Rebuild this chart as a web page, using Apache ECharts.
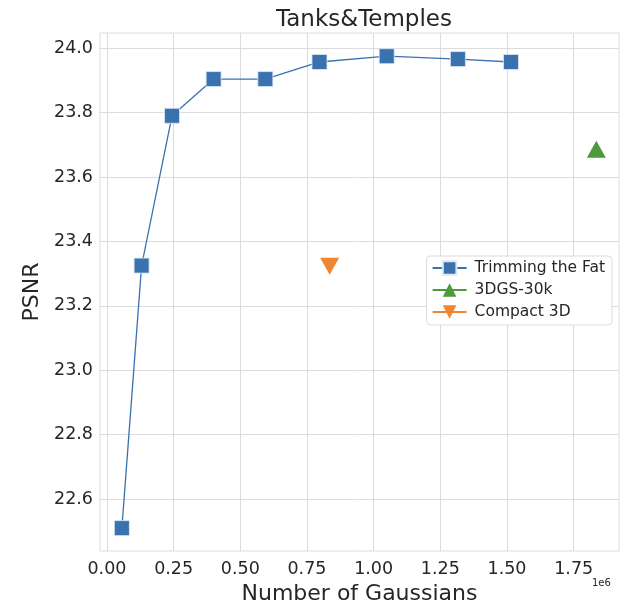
<!DOCTYPE html>
<html>
<head>
<meta charset="utf-8">
<script src="https://cdn.jsdelivr.net/npm/echarts@6/dist/echarts.min.js"></script>
<style>html,body{margin:0;padding:0;background:#fff}#c{width:627px;height:601px}</style>
</head>
<body>
<div id="c"></div>
<script>
const trimX = [56000, 130000, 244000, 400000, 594000, 797000, 1049000, 1316000, 1515000];
const trimY = [22.51, 23.325, 23.79, 23.904, 23.904, 23.957, 23.975, 23.966, 23.957];
const gsX = [1835000];
const gsY = [23.686];
const c3dX = [835000];
const c3dY = [23.323];
const xTicks = [0, 250000, 500000, 750000, 1000000, 1250000, 1500000, 1750000];
const yTicks = [22.6, 22.8, 23.0, 23.2, 23.4, 23.6, 23.8, 24.0];

const F = 'DejaVu Sans';
const pairs = (xs, ys) => xs.map((x, i) => [x, ys[i]]);
const chart = echarts.init(document.getElementById('c'), null, {renderer: 'canvas'});
chart.setOption({
  animation: false,
  backgroundColor: '#fff',
  title: {
    text: 'Tanks&Temples', left: 359, top: 4, textAlign: 'center',
    textStyle: {fontFamily: F, fontSize: 23, fontWeight: 'normal', color: '#262626'}
  },
  grid: {left: 100, right: 8, top: 33, bottom: 50, show: true, borderColor: '#dcdcdc', borderWidth: 1,
    outerBoundsMode: 'none', containLabel: false},
  legend: {
    right: 15, top: 256, orient: 'vertical', itemGap: 6, itemWidth: 34, itemHeight: 17,
    padding: [4, 7, 5, 5], borderColor: '#dcdcdc', borderWidth: 1, borderRadius: 4, backgroundColor: '#fff',
    textStyle: {fontFamily: F, fontSize: 15.5, color: '#262626', padding: [0, 0, 0, 3]},
    data: ['Trimming the Fat', '3DGS-30k', 'Compact 3D']
  },
  xAxis: {
    type: 'value', min: -26000, max: 1920000,
    name: 'Number of Gaussians', nameLocation: 'middle', nameGap: 28,
    nameTextStyle: {fontFamily: F, fontSize: 22, color: '#262626'},
    axisLine: {show: false}, axisTick: {show: false, customValues: xTicks},
    axisLabel: {customValues: xTicks, fontFamily: F, fontSize: 17.5, color: '#262626', margin: 9,
      formatter: v => (v / 1e6).toFixed(2)},
    splitLine: {show: true, lineStyle: {color: '#dcdcdc', width: 1}}
  },
  yAxis: {
    type: 'value', min: 22.439, max: 24.047,
    name: 'PSNR', nameLocation: 'middle', nameGap: 53, nameRotate: 90,
    nameTextStyle: {fontFamily: F, fontSize: 22, color: '#262626'},
    axisLine: {show: false}, axisTick: {show: false, customValues: yTicks},
    axisLabel: {customValues: yTicks, fontFamily: F, fontSize: 17.5, color: '#262626', margin: 7,
      formatter: v => v.toFixed(1)},
    splitLine: {show: true, lineStyle: {color: '#dcdcdc', width: 1}}
  },
  graphic: [{type: 'text', left: 592, top: 578, style: {text: '1e6', fontFamily: F, fontSize: 10, fill: '#262626'}}],
  series: [
    {name: 'Trimming the Fat', type: 'line', data: pairs(trimX, trimY), symbol: 'rect', symbolSize: 15,
      color: '#3a72b0', lineStyle: {width: 1.3, color: '#3a72b0'},
      itemStyle: {color: '#3a72b0', borderColor: '#dfe8f2', borderWidth: 0.8}},
    {name: '3DGS-30k', type: 'line', data: pairs(gsX, gsY), symbol: 'triangle', symbolSize: [19, 17],
      color: '#4d9a3a', lineStyle: {width: 1.3, color: '#4d9a3a'}, itemStyle: {color: '#4d9a3a'}},
    {name: 'Compact 3D', type: 'line', data: pairs(c3dX, c3dY), symbol: 'triangle', symbolRotate: 180, symbolSize: [19, 17],
      color: '#ef8530', lineStyle: {width: 1.3, color: '#ef8530'}, itemStyle: {color: '#ef8530'}}
  ]
});
</script>
</body>
</html>
